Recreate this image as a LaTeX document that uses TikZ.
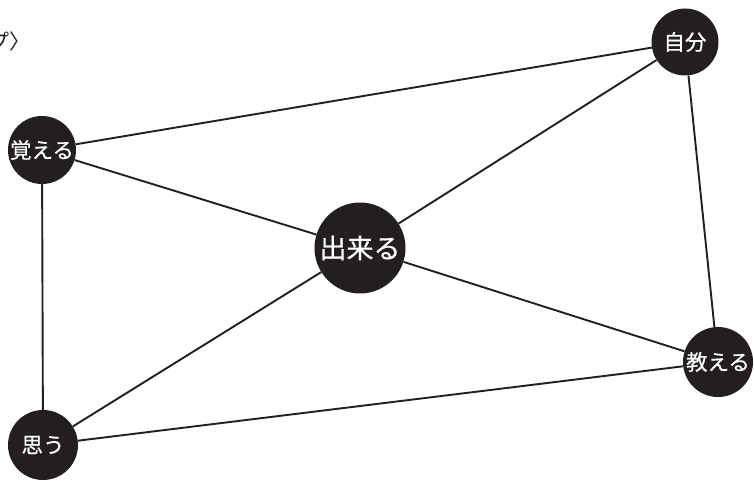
\documentclass[tikz,border=0pt]{standalone}
\usepackage{fontspec}
\newfontfamily\cjk{Noto Sans CJK JP}
\newfontfamily\cjkb[FakeBold=0.5]{Noto Sans CJK JP}
\definecolor{ink}{RGB}{35,31,32}
\begin{document}
\begin{tikzpicture}[x=1pt,y=1pt,
  wnode/.style={circle,fill=ink,text=white,inner sep=0pt,font=\cjkb\fontsize{21.5}{23}\selectfont},
  edge/.style={line width=1.9pt,ink}]
\useasboundingbox (0,0) rectangle (754,482);
\begin{scope}
\clip (0,0) rectangle (754,482);
\node[anchor=east,font=\cjk\fontsize{21}{23}\selectfont,text=ink,inner sep=0pt] (title) at (31,440) {〈グループ〉};
\end{scope}
\node[wnode,minimum size=67pt] (jibun) at (685,440) {自分};
\node[wnode,minimum size=68pt] (oboeru) at (42,332) {覚える};
\node[wnode,minimum size=91pt,font=\cjkb\fontsize{27}{29}\selectfont] (dekiru) at (360,234) {出来る};
\node[wnode,minimum size=70pt] (oshieru) at (718,120) {教える};
\node[wnode,minimum size=70pt] (omou) at (43,37) {思う};
\draw[edge] (oboeru) -- (jibun);
\draw[edge] (oboeru) -- (dekiru);
\draw[edge] (oboeru) -- (omou);
\draw[edge] (dekiru) -- (jibun);
\draw[edge] (dekiru) -- (oshieru);
\draw[edge] (dekiru) -- (omou);
\draw[edge] (jibun) -- (oshieru);
\draw[edge] (omou) -- (oshieru);
\end{tikzpicture}
\end{document}
